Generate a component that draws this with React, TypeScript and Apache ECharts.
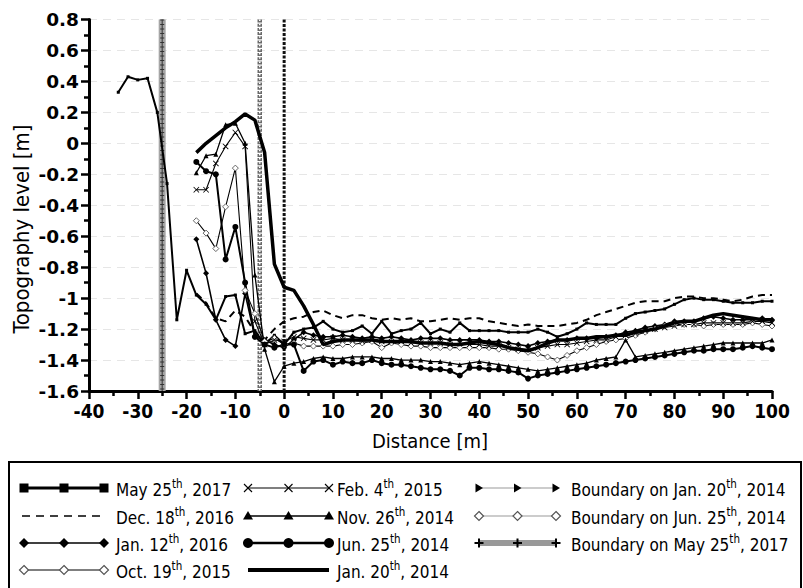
import React, { useEffect, useRef } from "react";
import * as echarts from "echarts";

// Distance grid (m) shared by the profiles
const distances = [
  -18, -16, -14, -12, -10, -8, -6, -4, -2, 0,
  2, 4, 6, 8, 10, 12, 14, 16, 18, 20,
  22, 24, 26, 28, 30, 32, 34, 36, 38, 40,
  42, 44, 46, 48, 50, 52, 54, 56, 58, 60,
  62, 64, 66, 68, 70, 72, 74, 76, 78, 80,
  82, 84, 86, 88, 90, 92, 94, 96, 98, 100,
];
const may2017LandX = [-34, -32, -30, -28, -26, -24, -22, -20];
const may2017LandY = [0.33, 0.43, 0.41, 0.42, 0.2, -0.26, -1.14, -0.82];

const may2017 = [
  -0.98, -1.04, -1.14, -0.99, -0.98, -1.23, -1.21, -1.3, -1.24, -1.3,
  -1.22, -1.2, -1.19, -1.15, -1.2, -1.22, -1.21, -1.18, -1.23, -1.15,
  -1.23, -1.21, -1.2, -1.16, -1.23, -1.2, -1.22, -1.16, -1.21, -1.21,
  -1.21, -1.21, -1.22, -1.22, -1.22, -1.2, -1.22, -1.25, -1.23, -1.2,
  -1.16, -1.17, -1.17, -1.17, -1.13, -1.1, -1.09, -1.08, -1.07, -1.04,
  -1.01, -1.0, -1.01, -1.01, -1.02, -1.03, -1.03, -1.03, -1.02, -1.02,
];
const dec2016 = [
  -0.97, -1.03, -1.13, -1.15, -1.08, -1.12, -1.22, -1.27, -1.2, -1.15,
  -1.13, -1.12, -1.09, -1.08, -1.11, -1.13, -1.11, -1.11, -1.13, -1.14,
  -1.13, -1.14, -1.13, -1.15, -1.15, -1.14, -1.13, -1.14, -1.13, -1.13,
  -1.15, -1.16, -1.17, -1.18, -1.17, -1.18, -1.18, -1.18, -1.17, -1.16,
  -1.14, -1.11, -1.09, -1.07, -1.05, -1.03, -1.02, -1.02, -1.02, -1.0,
  -0.99, -0.99, -1.0, -1.0, -1.01, -1.02, -1.01, -0.99, -0.98, -0.98,
];
const jan2016 = [
  -0.62, -0.84, -1.14, -1.27, -1.31, -0.97, -1.25, -1.27, -1.3, -1.32,
  -1.27, -1.22, -1.24, -1.25, -1.25, -1.24, -1.25, -1.26, -1.25, -1.26,
  -1.25, -1.26, -1.27, -1.26, -1.26, -1.26, -1.27, -1.27, -1.27, -1.27,
  -1.28, -1.28, -1.29, -1.3, -1.31, -1.29, -1.28, -1.27, -1.27, -1.26,
  -1.26, -1.26, -1.25, -1.24, -1.22, -1.21, -1.19, -1.18, -1.17, -1.15,
  -1.15, -1.15, -1.13, -1.12, -1.13, -1.14, -1.14, -1.14, -1.13, -1.14,
];
const oct2015 = [
  -0.5, -0.58, -0.68, -0.41, -0.16, -0.95, -1.1, -1.28, -1.26, -1.3,
  -1.29, -1.31, -1.31, -1.31, -1.31, -1.3, -1.3, -1.29, -1.28, -1.32,
  -1.29, -1.3, -1.31, -1.31, -1.32, -1.32, -1.32, -1.32, -1.32, -1.32,
  -1.32, -1.33, -1.33, -1.34, -1.35, -1.36, -1.38, -1.4, -1.37, -1.34,
  -1.32, -1.3, -1.28, -1.27, -1.26, -1.24, -1.22, -1.2, -1.18, -1.17,
  -1.17, -1.17, -1.18, -1.17, -1.17, -1.17, -1.17, -1.16, -1.17, -1.18,
];
const feb2015 = [
  -0.3, -0.3, -0.13, -0.02, 0.07, -0.02, -1.15, -1.3, -1.27, -1.28,
  -1.25, -1.26, -1.27, -1.27, -1.26, -1.27, -1.27, -1.28, -1.27, -1.28,
  -1.28, -1.28, -1.29, -1.29, -1.29, -1.29, -1.3, -1.29, -1.3, -1.3,
  -1.31, -1.31, -1.32, -1.33, -1.33, -1.32, -1.31, -1.3, -1.3, -1.29,
  -1.28, -1.27, -1.27, -1.25, -1.24, -1.23, -1.21, -1.2, -1.19, -1.18,
  -1.17, -1.17, -1.16, -1.16, -1.16, -1.16, -1.16, -1.15, -1.15, -1.16,
];
const nov2014 = [
  -0.19, -0.08, -0.07, 0.12, 0.13, 0.0, -0.85, -1.33, -1.54, -1.44,
  -1.42, -1.41, -1.39, -1.38, -1.39, -1.39, -1.38, -1.38, -1.38, -1.39,
  -1.39, -1.4, -1.4, -1.4, -1.41, -1.41, -1.42, -1.43, -1.42, -1.41,
  -1.42, -1.43, -1.44, -1.45, -1.46, -1.47, -1.46, -1.45, -1.44, -1.43,
  -1.42, -1.4, -1.39, -1.38, -1.27, -1.38, -1.37, -1.36, -1.35, -1.34,
  -1.33, -1.32, -1.31, -1.3, -1.29, -1.29, -1.29, -1.29, -1.29, -1.27,
];
const jun2014 = [
  -0.12, -0.18, -0.2, -0.75, -0.54, -0.9, -1.25, -1.3, -1.32, -1.3,
  -1.3, -1.47, -1.41, -1.4, -1.43, -1.41, -1.42, -1.42, -1.4, -1.42,
  -1.43, -1.43, -1.44, -1.45, -1.46, -1.46, -1.47, -1.5, -1.45, -1.45,
  -1.46, -1.46, -1.47, -1.48, -1.52, -1.5, -1.49, -1.48, -1.47, -1.46,
  -1.45, -1.44, -1.43, -1.42, -1.41, -1.4, -1.39, -1.38, -1.37, -1.36,
  -1.35, -1.34, -1.34, -1.33, -1.33, -1.33, -1.32, -1.31, -1.32, -1.33,
];
const jan2014 = [
  -0.06, 0.0, 0.05, 0.1, 0.14, 0.19, 0.15, -0.06, -0.78, -0.93,
  -0.95, -1.05, -1.17, -1.3, -1.28, -1.27, -1.27, -1.27, -1.27, -1.28,
  -1.28, -1.28, -1.28, -1.29, -1.29, -1.29, -1.3, -1.3, -1.29, -1.28,
  -1.29, -1.3, -1.32, -1.33, -1.34, -1.32, -1.29, -1.27, -1.27, -1.26,
  -1.26, -1.25, -1.25, -1.24, -1.24, -1.22, -1.21, -1.2, -1.18, -1.16,
  -1.15, -1.15, -1.13, -1.11, -1.1, -1.11, -1.12, -1.13, -1.14, -1.14,
];

// Shoreline boundaries (distance, m)
const boundaryJan2014 = 0;
const boundaryJun2014 = -5;
const boundaryMay2017 = -25;
const levelRange = [0.8, -1.6];

// Legend texts: [before superscript, superscript, after]
const legendLabels = [
  ["May 25", "th", ", 2017"],
  ["Dec. 18", "th", ", 2016"],
  ["Jan. 12", "th", ", 2016"],
  ["Oct. 19", "th", ", 2015"],
  ["Feb. 4", "th", ", 2015"],
  ["Nov. 26", "th", ", 2014"],
  ["Jun. 25", "th", ", 2014"],
  ["Jan. 20", "th", ", 2014"],
  ["Boundary on Jan. 20", "th", ", 2014"],
  ["Boundary on Jun. 25", "th", ", 2014"],
  ["Boundary on May 25", "th", ", 2017"],
];

const xAxisName = "Distance [m]";
const yAxisName = "Topography level [m]";

const GRID = { left: 89, right: 31, top: 19.5, bottom: 197 };
const crossPath = "path://M0,1L1,0L5,4L9,0L10,1L6,5L10,9L9,10L5,6L1,10L0,9L4,5Z";

function pairs(xs: number[], ys: number[]) {
  return xs.map((x, i) => [x, ys[i]]);
}

function buildLegend(): any[] {
  const els: any[] = [];
  els.push({
    type: "rect",
    shape: { x: 9, y: 462, width: 792, height: 140 },
    style: { fill: "#fff", stroke: "#000", lineWidth: 2 },
    z: 50,
  });
  const cols = [
    { x1: 24, x2: 104, tx: 116 },
    { x1: 248, x2: 329, tx: 337 },
    { x1: 479, x2: 556, tx: 571 },
  ];
  const rows = [488, 516, 543, 570];
  const place = [
    [0, 0], [0, 1], [0, 2], [0, 3],
    [1, 0], [1, 1], [1, 2], [1, 3],
    [2, 0], [2, 1], [2, 2],
  ];
  const kinds = [
    "square", "dash", "diamond", "hdiamond",
    "cross", "triangle", "circle", "thick",
    "btri", "bdiamond", "bplus",
  ];
  kinds.forEach((k, i) => {
    const c = cols[place[i][0]];
    const y = rows[place[i][1]];
    const xs = [c.x1, (c.x1 + c.x2) / 2, c.x2];
    let lw = 1.2;
    let col = "#000";
    let dash: any = null;
    if (k === "square") lw = 3;
    if (k === "dash") { lw = 1.6; dash = [8, 6]; }
    if (k === "diamond" || k === "triangle") lw = 1.6;
    if (k === "circle") lw = 2.6;
    if (k === "thick") lw = 4;
    if (k === "btri" || k === "bdiamond") { lw = 1; col = "#999"; }
    if (k === "bplus") { lw = 6; col = "#999"; }
    els.push({
      type: "line",
      shape: { x1: c.x1 + (k === "dash" ? -2 : 0), y1: y, x2: c.x2, y2: y },
      style: { stroke: col, lineWidth: lw, lineDash: dash },
      z: 51,
    });
    xs.forEach((mx) => {
      if (k === "square") {
        els.push({ type: "rect", shape: { x: mx - 4.5, y: y - 4.5, width: 9, height: 9 }, style: { fill: "#000" }, z: 52 });
      } else if (k === "diamond") {
        els.push({ type: "polygon", shape: { points: [[mx, y - 5], [mx + 5, y], [mx, y + 5], [mx - 5, y]] }, style: { fill: "#000" }, z: 52 });
      } else if (k === "hdiamond" || k === "bdiamond") {
        els.push({ type: "polygon", shape: { points: [[mx, y - 4.5], [mx + 4.5, y], [mx, y + 4.5], [mx - 4.5, y]] }, style: { fill: "#fff", stroke: "#555", lineWidth: 1.2 }, z: 52 });
      } else if (k === "cross") {
        els.push({ type: "line", shape: { x1: mx - 4, y1: y - 4, x2: mx + 4, y2: y + 4 }, style: { stroke: "#000", lineWidth: 1.1 }, z: 52 });
        els.push({ type: "line", shape: { x1: mx - 4, y1: y + 4, x2: mx + 4, y2: y - 4 }, style: { stroke: "#000", lineWidth: 1.1 }, z: 52 });
      } else if (k === "triangle") {
        els.push({ type: "polygon", shape: { points: [[mx, y - 5], [mx + 5, y + 3.5], [mx - 5, y + 3.5]] }, style: { fill: "#000" }, z: 52 });
      } else if (k === "circle") {
        els.push({ type: "circle", shape: { cx: mx, cy: y, r: 5 }, style: { fill: "#000" }, z: 52 });
      } else if (k === "btri") {
        els.push({ type: "polygon", shape: { points: [[mx - 3.5, y - 4.5], [mx + 4, y], [mx - 3.5, y + 4.5]] }, style: { fill: "#000" }, z: 52 });
      } else if (k === "bplus") {
        els.push({ type: "line", shape: { x1: mx - 4.5, y1: y, x2: mx + 4.5, y2: y }, style: { stroke: "#000", lineWidth: 2 }, z: 52 });
        els.push({ type: "line", shape: { x1: mx, y1: y - 4.5, x2: mx, y2: y + 4.5 }, style: { stroke: "#000", lineWidth: 2 }, z: 52 });
      }
    });
    const lab = legendLabels[i];
    els.push({
      type: "text",
      x: c.tx,
      y: y,
      style: {
        text: `{a|${lab[0]}}{s|${lab[1]}}{a|${lab[2]}}`,
        verticalAlign: "middle",
        align: "left",
        rich: {
          a: { fontFamily: "DejaVu Sans Condensed", fontSize: 17, fill: "#000", lineHeight: 21, verticalAlign: "bottom" },
          s: { fontFamily: "DejaVu Sans Condensed", fontSize: 11.5, fill: "#000", lineHeight: 21, verticalAlign: "top" },
        },
      },
      z: 53,
    });
  });
  return els;
}

export default function App() {
  const ref = useRef<HTMLDivElement>(null);
  useEffect(() => {
    if (!ref.current) return;
    const chart = echarts.init(ref.current, null, { renderer: "svg" });
    const vline = (x: number, color: string, width: number, dash: any, z: number) => ({
      type: "line",
      data: [[x, levelRange[0]], [x, levelRange[1]]],
      showSymbol: false,
      symbol: "none",
      lineStyle: { color, width, type: dash },
      z,
      silent: true,
    });
    const prof = (
      ys: number[],
      width: number,
      symbol: string,
      size: number,
      opts: any = {}
    ) => ({
      type: "line",
      data: opts.xs ? pairs(opts.xs, ys) : pairs(distances, ys),
      symbol,
      symbolSize: size,
      showSymbol: symbol !== "none",
      lineStyle: { color: "#000", width, type: opts.dash || "solid" },
      itemStyle: opts.item || { color: "#000" },
      z: opts.z || 5,
    });

    const option: any = {
      animation: false,
      backgroundColor: "#fff",
      grid: GRID,
      xAxis: {
        type: "value",
        min: -40,
        max: 100,
        interval: 10,
        axisLine: { onZero: false, lineStyle: { color: "#000", width: 3 } },
        axisTick: { show: true, length: 8, lineStyle: { color: "#000", width: 2.5 } },
        minorTick: { show: true, splitNumber: 2, length: 5, lineStyle: { color: "#000", width: 2.5 } },
        splitLine: { show: false },
        axisLabel: {
          color: "#000",
          fontFamily: "DejaVu Sans Condensed",
          fontWeight: "bold",
          fontSize: 19,
          margin: 10,
        },
      },
      yAxis: {
        type: "value",
        min: -1.6,
        max: 0.8,
        interval: 0.2,
        axisLine: { show: true, onZero: false, lineStyle: { color: "#000", width: 3 } },
        axisTick: { show: true, length: 8, lineStyle: { color: "#000", width: 2.5 } },
        minorTick: { show: true, splitNumber: 2, length: 5, lineStyle: { color: "#000", width: 2.5 } },
        splitLine: { show: true, lineStyle: { color: "#e6e6e6", width: 1, type: [8, 6] } },
        axisLabel: {
          color: "#000",
          fontFamily: "DejaVu Sans",
          fontWeight: "bold",
          fontSize: 18.5,
          margin: 10,
          formatter: (v: number) => {
            const r = Math.round(v * 10) / 10;
            return r === 0 ? "0" : String(r);
          },
        },
      },
      series: [
        // Boundary May 25th 2017 (gray band with crosses)
        vline(boundaryMay2017, "#a5a5a5", 7, "solid", 2),
        vline(boundaryMay2017, "#333", 1, "solid", 3),
        vline(boundaryMay2017, "#333", 4, [1, 3.5], 3),
        // Boundary Jun 25th 2014 (diamonds)
        vline(boundaryJun2014, "#6a6a6a", 4.5, [3, 1.2], 2),
        vline(boundaryJun2014, "#fff", 1.5, [1.5, 2.7], 3),
        // Boundary Jan 20th 2014 (triangles)
        vline(boundaryJan2014, "#111", 3, [3, 1.5], 2),
        // Profiles
        prof(may2017LandY.concat(may2017), 2, "rect", 3, { xs: may2017LandX.concat(distances) }),
        prof(dec2016, 2, "none", 0, { dash: [7, 5] }),
        prof(jan2016, 1.6, "diamond", 6),
        prof(oct2015, 1.1, "diamond", 6, { item: { color: "#fff", borderColor: "#666", borderWidth: 1 } }),
        prof(feb2015, 1.1, crossPath, 6),
        prof(nov2014, 1.3, "triangle", 5),
        prof(jun2014, 2, "circle", 6),
        prof(jan2014, 3.5, "none", 0, { z: 6 }),
      ],
      graphic: [
        {
          type: "text",
          x: 21,
          y: 229,
          rotation: Math.PI / 2,
          style: {
            text: yAxisName,
            fontFamily: "DejaVu Sans Condensed",
            fontSize: 22,
            fill: "#000",
            align: "center",
            verticalAlign: "middle",
          },
        },
        {
          type: "text",
          x: 430,
          y: 441,
          style: {
            text: xAxisName,
            fontFamily: "DejaVu Sans Condensed",
            fontSize: 20,
            fill: "#000",
            align: "center",
            verticalAlign: "middle",
          },
        },
        ...buildLegend(),
      ],
    };
    chart.setOption(option);
    return () => chart.dispose();
  }, []);
  return <div ref={ref} style={{ width: 803, height: 588, position: "absolute", left: 0, top: 0 }} />;
}
